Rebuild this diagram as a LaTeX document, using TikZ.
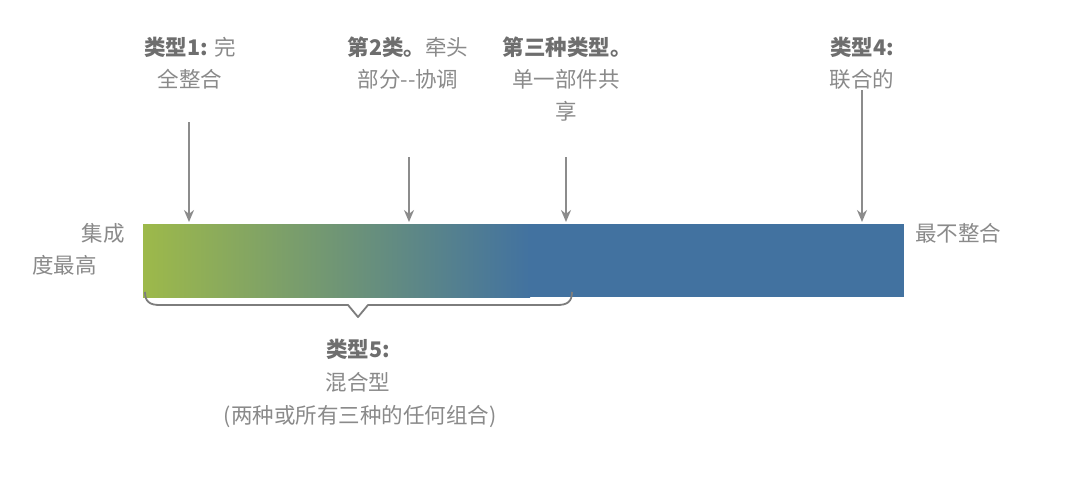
\documentclass[tikz,border=0pt]{standalone}
\usepackage{fontspec}
\setmainfont{Noto Sans CJK SC}
\usetikzlibrary{arrows.meta}
\definecolor{gtext}{HTML}{8A8A8A}
\definecolor{btext}{HTML}{6E6E6E}
\definecolor{barg}{HTML}{9DB94A}
\definecolor{barb}{HTML}{4272A0}
\definecolor{arr}{HTML}{8C8C8C}
\tikzset{
  lbl/.style={text=gtext, font=\fontsize{21.5}{33}\selectfont, align=center, inner sep=0pt, anchor=base},
  arrowline/.style={draw=arr, line width=2pt, -{Stealth[length=12pt,width=10pt]}},
  bracepath/.style={draw=btext!90, line width=1.8pt, line join=round}
}
\newcommand{\bt}[1]{{\bfseries\color{btext}#1}}
\begin{document}
\begin{tikzpicture}[x=1pt,y=-1pt]
\useasboundingbox[fill=white] (0,0) rectangle (1080,483);
% bar
\shade[left color=barg, right color=barb] (143,224) rectangle (530,297);
\fill[barb] (529.5,224) rectangle (904,297);
\coordinate (b1) at (189,222);
\coordinate (b2) at (409,222);
\coordinate (b3) at (566,222);
\coordinate (b4) at (862,222);
% labels
\node[lbl] (t1a) at (190,55) {\bt{类型1:} 完};
\node[lbl] (t1b) at (190,87) {全整合};
\node[lbl] (t2a) at (408,55) {\bt{第2类。}牵头};
\node[lbl] (t2b) at (408,87) {部分-{}-协调};
\node[lbl] (t3a) at (567,55) {\bt{第三种类型。}};
\node[lbl] (t3b) at (566,87) {单一部件共};
\node[lbl] (t3c) at (566,119) {享};
\node[lbl] (t4a) at (862,55) {\bt{类型4:}};
\node[lbl] (t4b) at (862,87) {联合的};
\node[lbl, anchor=base east] (l1) at (125,241) {集成};
\node[lbl, anchor=base east] (l2) at (97,273) {度最高};
\node[lbl, anchor=base west] (r1) at (915,241) {最不整合};
\node[lbl] (t5a) at (358,357) {\bt{类型5:}};
\node[lbl] (t5b) at (358,390) {混合型};
\node[lbl] (t5c) at (360,423) {(两种或所有三种的任何组合)};
% arrows
\coordinate (a1) at (189,122);
\coordinate (a2) at (409,157);
\coordinate (a3) at (566,157);
\coordinate (a4) at (862,90);
\draw[arrowline] (a1) -- (b1);
\draw[arrowline] (a2) -- (b2);
\draw[arrowline] (a3) -- (b3);
\draw[arrowline] (a4) -- (b4);
% brace
\coordinate (bl) at (145,292);
\coordinate (br) at (572,292);
\coordinate (bt) at (358,317);
\draw[bracepath] (bl) .. controls (145,302) and (150,305) .. (160,305) -- (348,305) -- (bt) -- (368,305) -- (557,305) .. controls (567,305) and (572,302) .. (br);
\end{tikzpicture}
\end{document}
